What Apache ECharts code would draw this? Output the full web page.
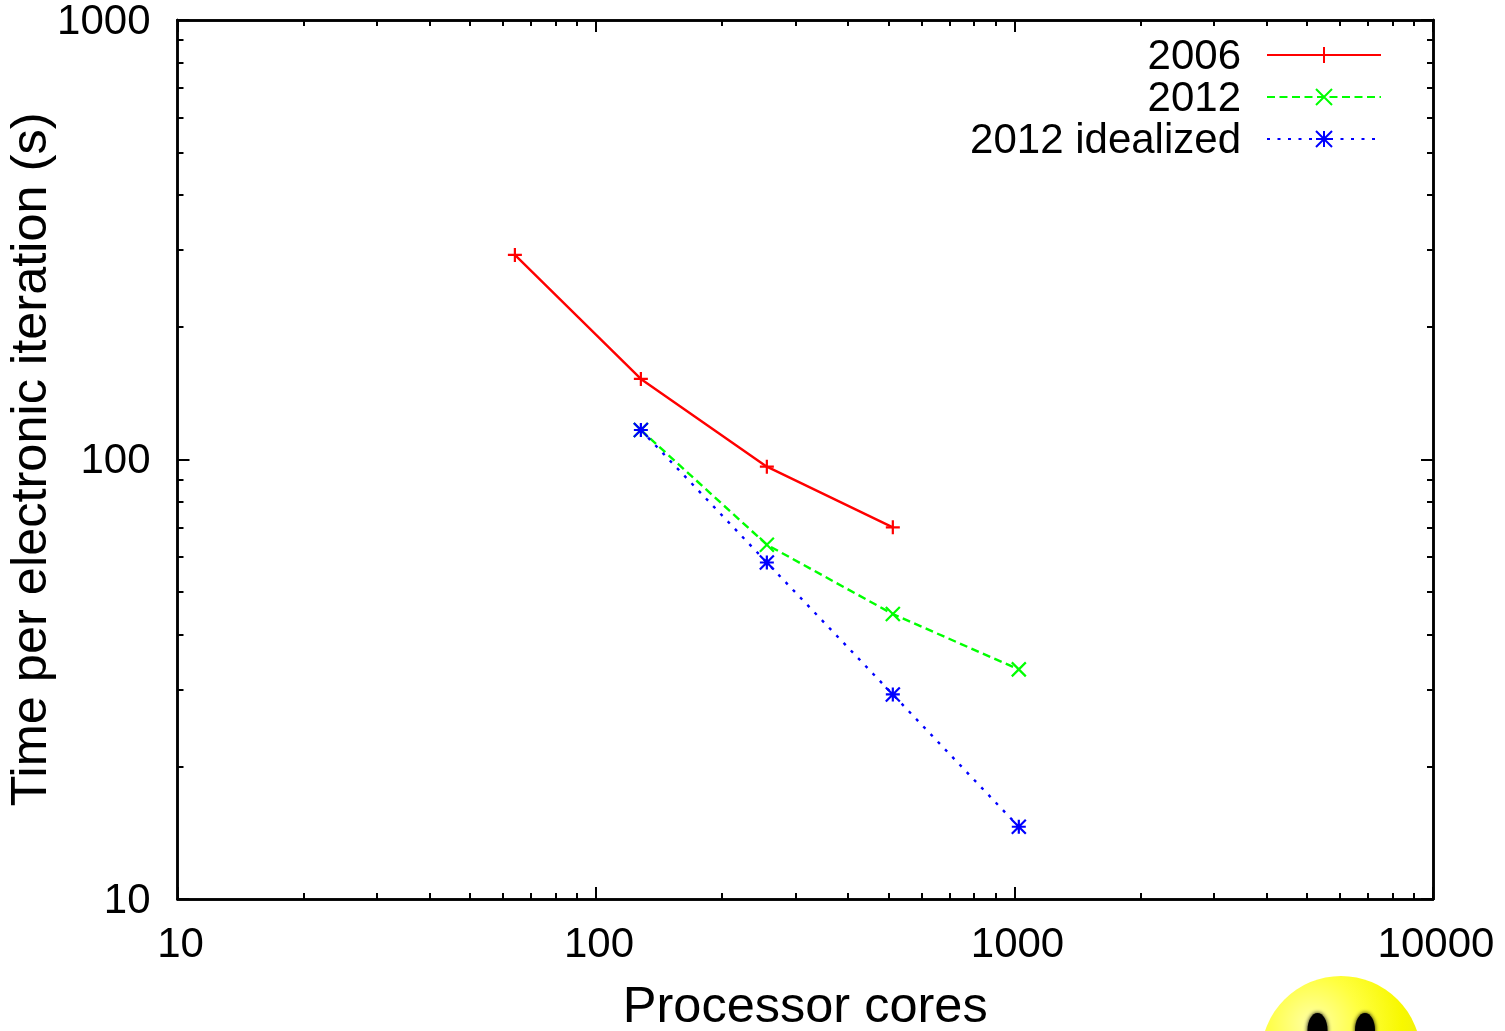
<!DOCTYPE html>
<html><head><meta charset="utf-8">
<style>html,body{margin:0;padding:0;background:#fff}#c{width:1505px;height:1031px}</style>
<script src="https://cdn.jsdelivr.net/npm/echarts@6/dist/echarts.min.js"></script>
</head><body><div id="c"></div>
<script>
const cores2006 = [64, 128, 256, 512];
const time2006 = [292, 152.5, 96.3, 70.1];
const cores2012 = [128, 256, 512, 1024];
const time2012 = [116.7, 64, 44.5, 33.3];
const coresIdeal = [128, 256, 512, 1024];
const timeIdeal = [116.7, 58.3, 29.2, 14.6];
const xMajor = [10, 100, 1000, 10000];
const yMajor = [10, 100, 1000];
const xMinor = [20,30,40,50,60,70,80,90,200,300,400,500,600,700,800,900,2000,3000,4000,5000,6000,7000,8000,9000];
const yMinor = [20,30,40,50,60,70,80,90,200,300,400,500,600,700,800,900];
const FONT = 'Liberation Sans';
const line = {show:true, lineStyle:{color:'#000', width:2.5}};
function axis(pos, min, max, length, values, label, name, extra){
  return Object.assign({
    type:'log', logBase:10, min, max, position:pos, splitLine:{show:false}, minorTick:{show:false},
    axisLine:Object.assign({onZero:false}, line),
    axisTick:{show:true, inside:true, length, lineStyle:{color:'#000', width:2}, customValues:values},
    axisLabel:label ? Object.assign({show:true, color:'#000', fontFamily:FONT, fontSize:42, customValues:values, hideOverlap:false, formatter:v=>String(Math.round(v))}, label) : {show:false},
    name:name||'', nameLocation:'middle', nameMoveOverlap:false, nameTextStyle:{color:'#000', fontFamily:FONT, fontSize:50.5}
  }, extra||{});
}
function series(name, xs, ys, color, type, path, size){
  return {name, type:'line', xAxisIndex:0, yAxisIndex:0,
    data:xs.map((x,i)=>[x,ys[i]]), symbol:path, symbolSize:size,
    showAllSymbol:true, animation:false,
    lineStyle:{color, width:2.4, type},
    itemStyle:{color:'rgba(0,0,0,0)', borderColor:color, borderWidth:2.2}};
}
const plus='path://M0 -1L0 1M-1 0L1 0';
const cross='path://M-1 -1L1 1M-1 1L1 -1';
const star='path://M0 -1L0 1M-1 0L1 0M-1 -1L1 1M-1 1L1 -1';
const chart = echarts.init(document.getElementById('c'), null, {renderer:'canvas'});
chart.setOption({
  backgroundColor:'#fff', animation:false,
  grid:{left:177.5, right:72, top:20, bottom:132, containLabel:false, outerBoundsMode:'none'},
  legend:{show:true, orient:'vertical', align:'right', right:123, top:36, padding:0, itemWidth:114, itemHeight:20, itemGap:0,
    formatter:n=>'{a|'+n+'}',
    textStyle:{color:'#000', fontFamily:FONT, fontSize:42, rich:{a:{color:'#000', fontFamily:FONT, fontSize:42, padding:[4,21,0,0]}}}, selectedMode:false,
    data:['2006','2012','2012 idealized']},
  xAxis:[
    axis('bottom',10,10000,12,xMajor,{margin:25, padding:[0,0,0,6]},'Processor cores',{nameGap:84}),
    axis('bottom',10,10000,6,xMinor),
    axis('top',10,10000,12,xMajor),
    axis('top',10,10000,6,xMinor)
  ],
  yAxis:[
    axis('left',10,1000,12,yMajor,{margin:27, formatter:v=>'{a|'+Math.round(v)+'}', rich:{a:{color:'#000', fontFamily:FONT, fontSize:42, padding:[4,0,0,0]}}},'Time per electronic iteration (s)',{nameGap:120}),
    axis('left',10,1000,6,yMinor),
    axis('right',10,1000,12,yMajor),
    axis('right',10,1000,6,yMinor)
  ],
  series:[
    series('2006',cores2006,time2006,'#ff0000','solid',plus,14),
    series('2012',cores2012,time2012,'#00ff00',[8,4.5],cross,14),
    series('2012 idealized',coresIdeal,timeIdeal,'#0000ff',[3,7.5],star,14)
  ],
  graphic:[
    {type:'circle', z:1, shape:{cx:1341, cy:1056, r:80},
      style:{fill:{type:'radial', x:0.32, y:0.3, r:0.75, colorStops:[{offset:0,color:'#ffffa8'},{offset:0.4,color:'#ffff40'},{offset:0.75,color:'#f8f800'},{offset:0.96,color:'#eeee10'},{offset:1,color:'#b8b880'}]}}},
    {type:'ellipse', z:2, shape:{cx:1317.5, cy:1030, rx:10, ry:17}, style:{fill:'#000', shadowBlur:4, shadowColor:'#000'}},
    {type:'ellipse', z:2, shape:{cx:1365, cy:1030, rx:10, ry:17}, style:{fill:'#000', shadowBlur:4, shadowColor:'#000'}}
  ]
});
</script></body></html>
